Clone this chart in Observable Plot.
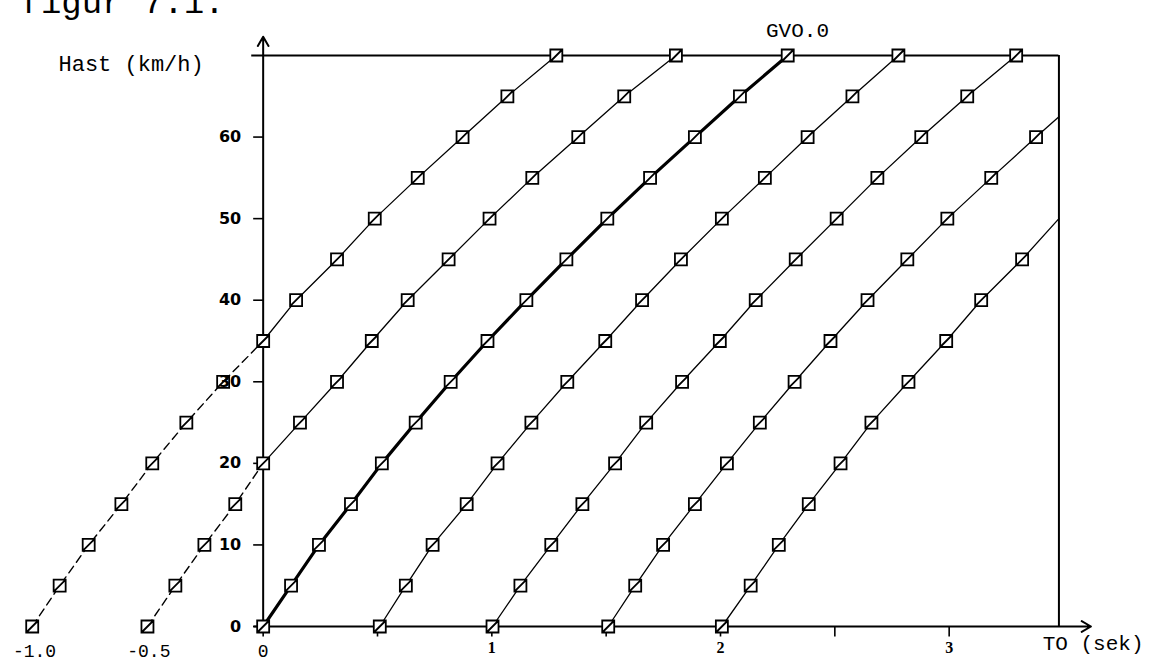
<!DOCTYPE html>
<html>
<head>
<meta charset="utf-8">
<script src="https://cdn.jsdelivr.net/npm/d3@7"></script>
<script src="https://cdn.jsdelivr.net/npm/@observablehq/plot@0.6"></script>
<style>
  html, body { margin: 0; padding: 0; background: #fff; }
  #chart svg { display: block; }
</style>
</head>
<body>
<div id="chart"></div>
<script>
// ---- data ----
const speeds = [0, 5, 10, 15, 20, 25, 30, 35, 40, 45, 50, 55, 60, 65, 70]; // km/h
const startTimes = [-1.0, -0.5, 0, 0.5, 1.0, 1.5, 2.0];                   // curve start (s)
// time (s) of each marker, per curve, for speeds 0,5,10,...
const curveA = [-1.01, -0.89, -0.763, -0.62, -0.485, -0.336, -0.175, 0, 0.144, 0.323, 0.488, 0.676, 0.872, 1.068, 1.282];
const curveB = [-0.506, -0.384, -0.257, -0.122, 0, 0.161, 0.323, 0.475, 0.632, 0.811, 0.99, 1.177, 1.378, 1.579, 1.805];
const curveC = [0, 0.122, 0.244, 0.384, 0.519, 0.667, 0.82, 0.981, 1.151, 1.326, 1.505, 1.692, 1.888, 2.085, 2.294];
const curveD = [0.51, 0.624, 0.741, 0.89, 1.025, 1.173, 1.33, 1.496, 1.657, 1.827, 2.006, 2.194, 2.381, 2.577, 2.778];
const curveE = [1.003, 1.125, 1.26, 1.396, 1.539, 1.675, 1.832, 1.997, 2.154, 2.329, 2.508, 2.686, 2.878, 3.079, 3.293];
const curveF = [1.509, 1.627, 1.749, 1.888, 2.028, 2.172, 2.324, 2.481, 2.643, 2.817, 2.992, 3.184, 3.38];
const curveG = [2.006, 2.132, 2.255, 2.386, 2.525, 2.66, 2.822, 2.987, 3.14, 3.319];
// where the last two curves leave the plot at the right border
const edgeTime = 3.48;
const edgeSpeedF = 62.5;
const edgeSpeedG = 50;
const boldCurve = 0; // start time of the bold curve

const yTicks = [0, 10, 20, 30, 40, 50, 60];
const yTickLabels = ["0", "10", "20", "30", "40", "50", "60"];
const xTicks = [0, 0.5, 1, 1.5, 2, 2.5, 3];
const xLabelsLeft = [-1.0, -0.5, 0];
const xLabelsLeftText = ["-1.0", "-0.5", "0"];
const xLabelsRight = [1, 2, 3];
const yMax = 70;

const yTitle = "Hast (km/h)";
const xTitle = "TO (sek)";
const topLabel = "GVO.0";
const figTitle = "figur 7.1.";

// ---- build tables ----
const curves = [curveA, curveB, curveC, curveD, curveE, curveF, curveG];
const points = curves.flatMap((ts, i) =>
  ts.map((t, j) => ({start: startTimes[i], t, v: speeds[j]})));
const lineData = points.concat([
  {start: startTimes[5], t: edgeTime, v: edgeSpeedF},
  {start: startTimes[6], t: edgeTime, v: edgeSpeedG}
]);
const solid = lineData.filter(d => d.t >= 0 && d.start !== boldCurve);
const bold = lineData.filter(d => d.start === boldCurve);
const dashed = lineData.filter(d => d.t <= 0 && d.start < 0);

// ---- symbols ----
const squareSlash = {
  draw(ctx, size) {
    const h = Math.sqrt(size / Math.PI);
    ctx.moveTo(-h, -h); ctx.lineTo(h, -h); ctx.lineTo(h, h); ctx.lineTo(-h, h); ctx.closePath();
    ctx.moveTo(-h, h); ctx.lineTo(h, -h);
  }
};
const tickLeft = { draw(ctx) { ctx.moveTo(-10, 0); ctx.lineTo(0, 0); } };
const tickDown = { draw(ctx) { ctx.moveTo(0, 0); ctx.lineTo(0, 10); } };

const mono = "'Liberation Mono', 'DejaVu Sans Mono', monospace";

const chart = Plot.plot({
  width: 1158,
  height: 663,
  marginLeft: 34,
  marginRight: 95,
  marginTop: 55,
  marginBottom: 37,
  x: {domain: [-1, 3.5], axis: null},
  y: {domain: [0, yMax], axis: null},
  style: {background: "white", color: "black", fontFamily: mono},
  marks: [
    // frame: top line and right border
    Plot.ruleY([yMax], {x1: -0.05, x2: edgeTime, stroke: "black", strokeWidth: 2}),
    Plot.ruleX([edgeTime], {y1: 0, y2: yMax, stroke: "black", strokeWidth: 2}),
    // axes with arrows
    Plot.arrow([0], {x1: 0, y1: 0, x2: 0, y2: 72.3, stroke: "black", strokeWidth: 2, headLength: 8}),
    Plot.arrow([0], {x1: -0.04, y1: 0, x2: 3.62, y2: 0, stroke: "black", strokeWidth: 2, headLength: 8}),
    Plot.dot(yTicks, {x: 0, y: d => d, symbol: tickLeft, stroke: "black", strokeWidth: 1.6, fill: "none"}),
    Plot.dot(xTicks, {x: d => d, y: 0, symbol: tickDown, stroke: "black", strokeWidth: 1.6, fill: "none"}),
    // curves
    Plot.line(dashed, {x: "t", y: "v", z: "start", stroke: "black", strokeWidth: 1.4, strokeDasharray: "8,5"}),
    Plot.line(solid, {x: "t", y: "v", z: "start", stroke: "black", strokeWidth: 1.3}),
    Plot.line(bold, {x: "t", y: "v", z: "start", stroke: "black", strokeWidth: 3.2}),
    Plot.dot(points, {x: "t", y: "v", symbol: squareSlash, r: 6, stroke: "black", strokeWidth: 1.8, fill: "white"}),
    // tick labels
    Plot.text(yTicks, {x: 0, y: d => d, text: (d, i) => yTickLabels[i], dx: -22, textAnchor: "end",
      fontFamily: "'DejaVu Sans', sans-serif", fontWeight: "bold", fontSize: 16}),
    Plot.text(xLabelsLeft, {x: d => d, y: 0, text: (d, i) => xLabelsLeftText[i], dy: 25, fontSize: 18}),
    Plot.text(xLabelsRight, {x: d => d, y: 0, text: d => String(d), dy: 21,
      fontFamily: "'Liberation Serif', serif", fontWeight: "bold", fontSize: 16}),
    // titles
    Plot.text([xTitle], {frameAnchor: "bottom-right", dx: 80, dy: 23, textAnchor: "end", fontSize: 21}),
    Plot.text([yTitle], {frameAnchor: "top-left", dx: 24, dy: 8, textAnchor: "start", fontSize: 22, lineAnchor: "middle"}),
    Plot.text([topLabel], {frameAnchor: "top-left", dx: 763, dy: -33, textAnchor: "middle", fontSize: 21}),
    Plot.text([figTitle], {frameAnchor: "top-left", dx: -14, dy: -43, textAnchor: "start", fontSize: 34, lineAnchor: "bottom"})
  ]
});
document.getElementById("chart").append(chart);
</script>
</body>
</html>
